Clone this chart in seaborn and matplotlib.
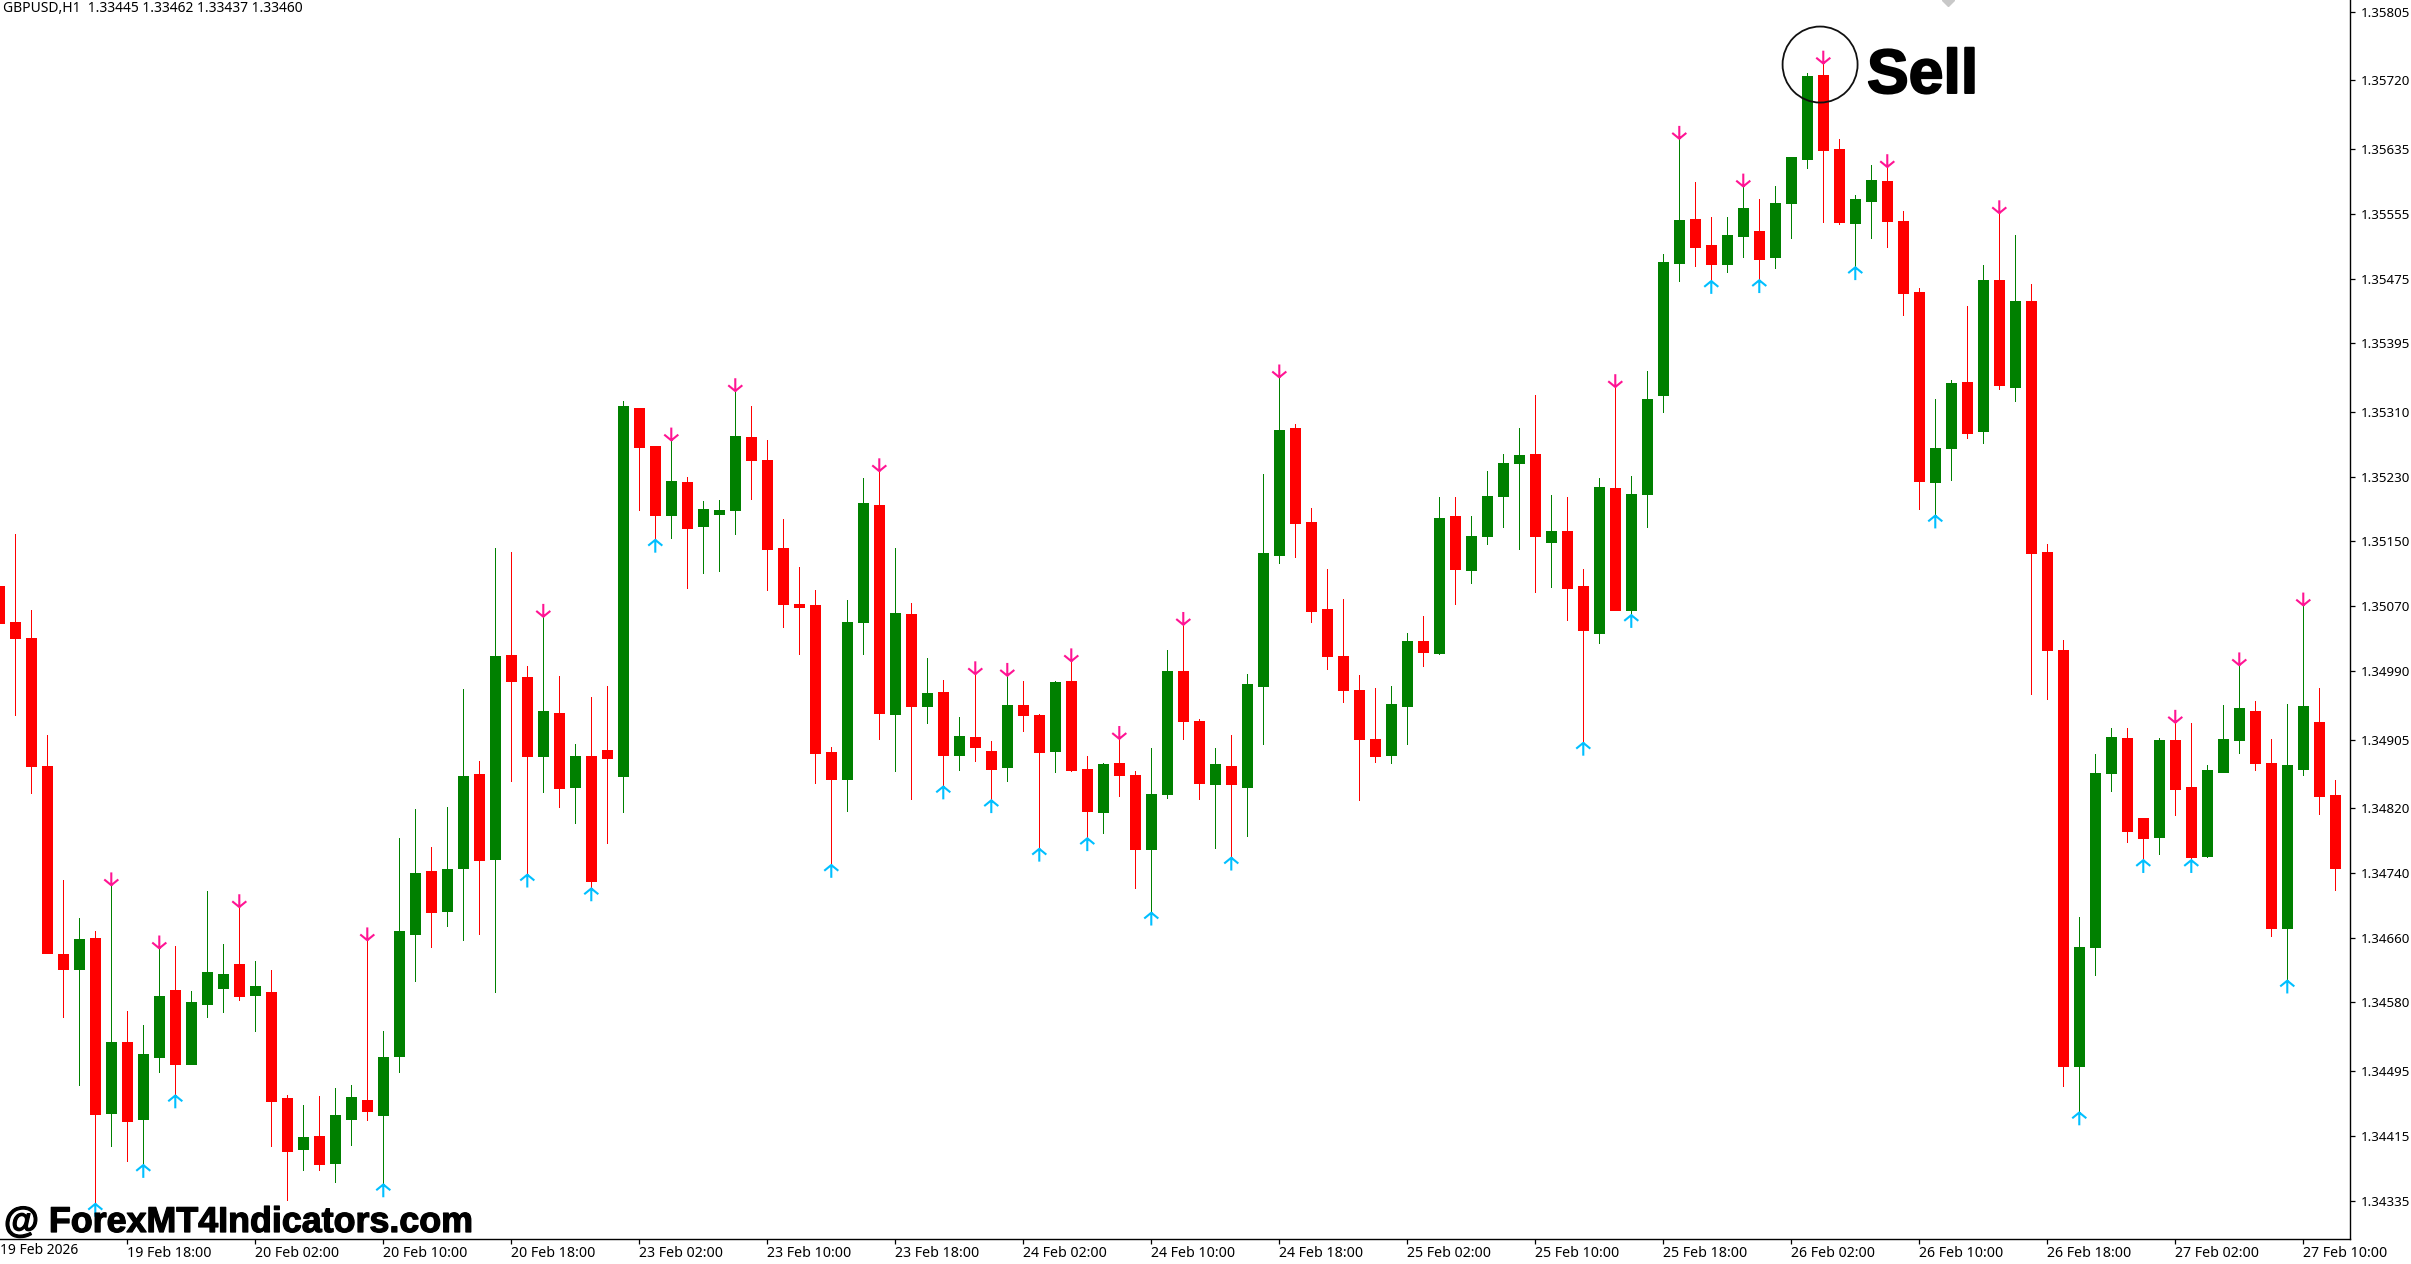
"""GBPUSD H1 candlestick chart with buy / sell arrows, MT4 look."""

import matplotlib

matplotlib.use("Agg")
import matplotlib.pyplot as plt
import matplotlib.patheffects as pe
import pandas as pd
import seaborn as sns
from matplotlib.markers import MarkerStyle
from matplotlib.patches import Ellipse
from matplotlib.path import Path

# Prices are in points (1e-5), one entry per H1 bar
opens = [
    135095, 135051, 135031, 134872, 134640, 134621, 134660, 134443, 134531, 134436,
    134513, 134595, 134504, 134578, 134598, 134627, 134589, 134593, 134462, 134399,
    134415, 134381, 134436, 134460, 134441, 134514, 134665, 134742, 134693, 134746,
    134863, 134757, 135010, 134983, 134885, 134938, 134846, 134885, 134892, 134860,
    135315, 135268, 135183, 135223, 135169, 135184, 135189, 135279, 135251, 135142,
    135073, 135072, 134890, 134856, 135050, 135195, 134937, 135060, 134947, 134964,
    134886, 134908, 134891, 134871, 134948, 134935, 134891, 134978, 134869, 134816,
    134876, 134861, 134770, 134838, 134990, 134928, 134850, 134873, 134847, 134971,
    135133, 135290, 135174, 135066, 135008, 134966, 134906, 134886, 134947, 135027,
    135012, 135181, 135115, 135157, 135206, 135247, 135258, 135149, 135163, 135095,
    135037, 135216, 135065, 135209, 135331, 135494, 135549, 135517, 135493, 135528,
    135534, 135502, 135568, 135623, 135727, 135635, 135544, 135571, 135596, 135546,
    135458, 135223, 135265, 135347, 135287, 135473, 135341, 135447, 135137, 135016,
    134502, 134649, 134864, 134907, 134808, 134785, 134904, 134847, 134761, 134865,
    134905, 134941, 134876, 134672, 134869, 134927, 134836,
]
highs = [
    135095, 135159, 135065, 134911, 134731, 134684, 134668, 134725, 134569, 134552,
    134647, 134650, 134594, 134718, 134652, 134698, 134631, 134620, 134466, 134453,
    134464, 134474, 134478, 134657, 134545, 134783, 134819, 134772, 134822, 134968,
    134878, 135142, 135137, 134996, 135057, 134984, 134899, 134958, 134971, 135324,
    135315, 135268, 135275, 135230, 135200, 135201, 135336, 135318, 135276, 135178,
    135118, 135090, 134896, 135078, 135229, 135237, 135142, 135074, 135006, 134979,
    134933, 134986, 134903, 134984, 134978, 134937, 134978, 135002, 134885, 134876,
    134906, 134866, 134895, 135016, 135047, 134931, 134895, 134911, 134986, 135234,
    135353, 135295, 135191, 135116, 135079, 134985, 134969, 134971, 135037, 135058,
    135205, 135205, 135181, 135237, 135258, 135290, 135331, 135207, 135205, 135116,
    135229, 135341, 135231, 135361, 135505, 135648, 135594, 135551, 135551, 135589,
    135573, 135590, 135626, 135729, 135741, 135648, 135578, 135616, 135613, 135559,
    135463, 135326, 135350, 135441, 135492, 135556, 135529, 135468, 135147, 135028,
    134686, 134887, 134920, 134920, 134808, 134907, 134926, 134925, 134874, 134948,
    134997, 134953, 134906, 134949, 135071, 134969, 134855,
]
lows = [
    135049, 134935, 134839, 134641, 134562, 134478, 134331, 134402, 134384, 134379,
    134494, 134465, 134504, 134562, 134568, 134583, 134545, 134402, 134336, 134373,
    134373, 134358, 134404, 134435, 134355, 134494, 134607, 134649, 134674, 134657,
    134665, 134593, 134854, 134738, 134840, 134822, 134802, 134721, 134777, 134816,
    135189, 135152, 135154, 135092, 135111, 135114, 135159, 135203, 135090, 135044,
    135011, 134852, 134750, 134817, 135011, 134906, 134866, 134832, 134925, 134847,
    134868, 134879, 134830, 134854, 134916, 134770, 134865, 134866, 134783, 134790,
    134835, 134722, 134691, 134833, 134906, 134831, 134771, 134759, 134786, 134899,
    135123, 135131, 135050, 134992, 134952, 134830, 134877, 134876, 134899, 134996,
    135011, 135073, 135099, 135147, 135168, 135141, 135087, 135094, 135053, 134901,
    135025, 135065, 135059, 135168, 135310, 135472, 135491, 135472, 135483, 135502,
    135473, 135488, 135525, 135612, 135545, 135543, 135489, 135525, 135514, 135430,
    135190, 135182, 135226, 135278, 135272, 135338, 135324, 134962, 134955, 134477,
    134444, 134614, 134842, 134779, 134756, 134763, 134812, 134756, 134760, 134865,
    134889, 134868, 134662, 134607, 134861, 134813, 134719,
]
closes = [
    135049, 135031, 134872, 134641, 134622, 134659, 134442, 134531, 134433, 134516,
    134588, 134504, 134580, 134618, 134615, 134588, 134601, 134458, 134396, 134414,
    134380, 134441, 134463, 134446, 134513, 134668, 134740, 134692, 134745, 134860,
    134756, 135009, 134978, 134885, 134941, 134845, 134885, 134730, 134882, 135318,
    135267, 135183, 135225, 135167, 135190, 135189, 135280, 135251, 135141, 135073,
    135069, 134888, 134856, 135050, 135197, 134938, 135062, 134947, 134963, 134886,
    134909, 134896, 134869, 134948, 134935, 134890, 134976, 134867, 134817, 134875,
    134861, 134770, 134838, 134990, 134928, 134851, 134875, 134850, 134974, 135136,
    135288, 135173, 135064, 135008, 134966, 134906, 134885, 134949, 135027, 135013,
    135179, 135116, 135157, 135206, 135247, 135257, 135157, 135163, 135092, 135041,
    135217, 135065, 135209, 135326, 135495, 135547, 135514, 135493, 135529, 135562,
    135499, 135568, 135626, 135725, 135634, 135545, 135573, 135597, 135546, 135457,
    135225, 135265, 135346, 135284, 135473, 135344, 135447, 135136, 135016, 134501,
    134649, 134864, 134908, 134792, 134784, 134905, 134844, 134760, 134868, 134906,
    134944, 134876, 134672, 134874, 134947, 134835, 134746,
]

# Bars carrying an indicator arrow
sell_bars = [7, 10, 15, 23, 34, 42, 46, 55, 61, 63, 67, 70, 74, 80, 101, 105,
             109, 114, 118, 125, 136, 140, 144]
buy_bars = [6, 9, 11, 24, 33, 37, 41, 52, 59, 62, 65, 68, 72, 77, 99, 102, 107,
            110, 116, 121, 130, 134, 137, 143]

price_ticks = [1.35805, 1.35720, 1.35635, 1.35555, 1.35475, 1.35395, 1.35310,
               1.35230, 1.35150, 1.35070, 1.34990, 1.34905, 1.34820, 1.34740,
               1.34660, 1.34580, 1.34495, 1.34415, 1.34335]
time_tick_bars = [8, 16, 24, 32, 40, 48, 56, 64, 72, 80, 88, 96, 104, 112, 120,
                  128, 136, 144]
time_labels = ["19 Feb 18:00", "20 Feb 02:00", "20 Feb 10:00", "20 Feb 18:00",
               "23 Feb 02:00", "23 Feb 10:00", "23 Feb 18:00", "24 Feb 02:00",
               "24 Feb 10:00", "24 Feb 18:00", "25 Feb 02:00", "25 Feb 10:00",
               "25 Feb 18:00", "26 Feb 02:00", "26 Feb 10:00", "26 Feb 18:00",
               "27 Feb 02:00", "27 Feb 10:00"]

UP, DOWN = "#008000", "#ff0000"
W, H, DPI = 2411, 1264, 100
LABEL_SIZE = 10.0

sns.set_style("white")
plt.rcParams["font.family"] = ["Noto Sans", "DejaVu Sans"]

bars = pd.DataFrame({"bar": range(len(opens)), "open": opens, "high": highs,
                     "low": lows, "close": closes})
bars[["open", "high", "low", "close"]] /= 1e5
bars["side"] = (bars["close"] >= bars["open"]).map({True: "up", False: "down"})

wicks = bars.melt(id_vars=["bar", "side"], value_vars=["high", "low"], value_name="price")
bodies = bars.melt(id_vars=["bar", "side"], value_vars=["open", "close"], value_name="price")

fig = plt.figure(figsize=(W / DPI, H / DPI), dpi=DPI)
ax = fig.add_axes([0, (H - 1238.5) / H, 2350 / W, 1238.5 / H])

line_opts = dict(x="bar", y="price", hue="side", units="bar", estimator=None,
                 sort=False, palette={"up": UP, "down": DOWN}, legend=False, ax=ax)
sns.lineplot(data=wicks, linewidth=0.62, antialiased=False, **line_opts)
sns.lineplot(data=bodies, linewidth=7.92, solid_capstyle="butt", antialiased=False, **line_opts)

# Arrow markers: the tip sits on the origin so it touches the wick end
sell_arrow = MarkerStyle(Path([(0, 1), (0, 0), (-0.55, 0.45), (0, 0), (0.55, 0.45)],
                              [Path.MOVETO, Path.LINETO, Path.LINETO, Path.MOVETO, Path.LINETO]),
                         fillstyle="none")
buy_arrow = MarkerStyle(Path([(0, -1), (0, 0), (-0.55, -0.45), (0, 0), (0.55, -0.45)],
                             [Path.MOVETO, Path.LINETO, Path.LINETO, Path.MOVETO, Path.LINETO]),
                        fillstyle="none")
sell_rows = bars[bars["bar"].isin(sell_bars)]
buy_rows = bars[bars["bar"].isin(buy_bars)]
sns.scatterplot(data=sell_rows, x="bar", y="high", marker=sell_arrow, s=340,
                color="#ff1493", linewidth=1.5, legend=False, ax=ax, zorder=4)
sns.scatterplot(data=buy_rows, x="bar", y="low", marker=buy_arrow, s=340,
                color="#00bfff", linewidth=1.5, legend=False, ax=ax, zorder=4)

ax.set_xlim(0.044, 146.92)
ax.set_ylim(1.342882, 1.358195)
ax.set_xlabel("")
ax.set_ylabel("")

ax.yaxis.tick_right()
ax.set_yticks(price_ticks, [f"{p:.5f}" for p in price_ticks])
ax.set_xticks(time_tick_bars, time_labels, ha="left")
ax.tick_params(axis="both", length=3.5, width=0.9, color="black", labelcolor="black",
               left=False, right=True, bottom=True)
ax.tick_params(axis="x", pad=2, labelsize=10.2)
ax.tick_params(axis="y", pad=4, labelsize=9.6)

for side in ["top", "left"]:
    ax.spines[side].set_visible(False)
for side in ["right", "bottom"]:
    ax.spines[side].set_visible(True)
    ax.spines[side].set_color("black")
    ax.spines[side].set_linewidth(1.0)

# Sell call-out and the small grey shift marker at the top edge
ax.add_patch(Ellipse((113.8, 1.357397), 75 / 16, 76 / 0.8088 / 1e5, fill=False,
                     edgecolor="#111111", linewidth=1.3, zorder=5))
ax.plot([121.8], [1.358195], marker="D", markersize=6.1, color="#c8c8c8", zorder=2, clip_on=True)

fig.text(1867 / W, 1 - 93 / H, "Sell", family="Liberation Sans", weight="bold", fontsize=45,
         color="black", va="baseline", path_effects=[pe.withStroke(linewidth=1.4, foreground="black")])
fig.text(4 / W, 1 - 1232 / H, "@ ForexMT4Indicators.com", family="Liberation Sans", weight="bold",
         fontsize=25.8, color="black", va="baseline",
         path_effects=[pe.withStroke(linewidth=0.9, foreground="black")])
fig.text(3 / W, 1 - 9 / H, "GBPUSD,H1  1.33445 1.33462 1.33437 1.33460", fontsize=LABEL_SIZE,
         color="black", va="center")
fig.text(0 / W, 1 - 1251 / H, "19 Feb 2026", fontsize=LABEL_SIZE, color="black", va="center")

fig.savefig("out.png", dpi=DPI)
